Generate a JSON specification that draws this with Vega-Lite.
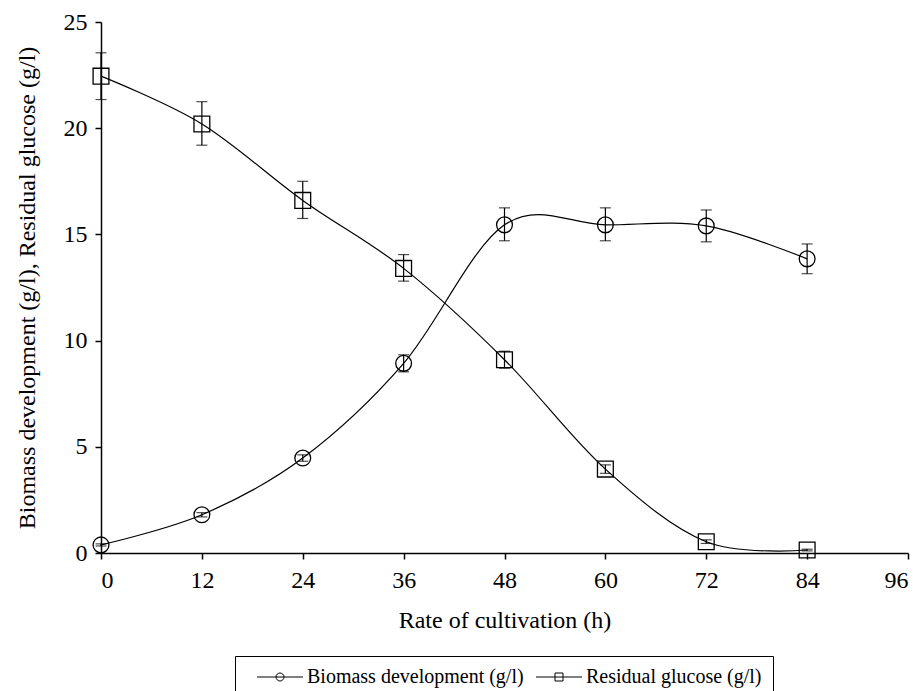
{
  "$schema": "https://vega.github.io/schema/vega-lite/v6.json",
  "width": 807,
  "height": 531,
  "autosize": {"type": "none"},
  "padding": {"left": 101, "top": 22, "right": 12, "bottom": 138},
  "background": "white",
  "config": {
    "font": "Liberation Serif",
    "view": {"stroke": null},
    "axis": {
      "grid": false,
      "domainColor": "black",
      "domainWidth": 1.5,
      "tickColor": "black",
      "tickWidth": 1.5,
      "tickSize": 6,
      "labelColor": "black",
      "labelFont": "Liberation Serif",
      "labelFontSize": 24,
      "titleColor": "black",
      "titleFont": "Liberation Serif",
      "titleFontSize": 24,
      "titleFontWeight": "normal"
    }
  },
  "data": {
    "values": [
      {"series": "Biomass development (g/l)", "time": 0, "value": 0.38, "lo": 0.33, "hi": 0.43},
      {"series": "Biomass development (g/l)", "time": 12, "value": 1.8, "lo": 1.7, "hi": 1.9},
      {"series": "Biomass development (g/l)", "time": 24, "value": 4.47, "lo": 4.32, "hi": 4.62},
      {"series": "Biomass development (g/l)", "time": 36, "value": 8.93, "lo": 8.53, "hi": 9.33},
      {"series": "Biomass development (g/l)", "time": 48, "value": 15.45, "lo": 14.7, "hi": 16.25},
      {"series": "Biomass development (g/l)", "time": 60, "value": 15.45, "lo": 14.7, "hi": 16.25},
      {"series": "Biomass development (g/l)", "time": 72, "value": 15.4, "lo": 14.65, "hi": 16.15},
      {"series": "Biomass development (g/l)", "time": 84, "value": 13.85, "lo": 13.15, "hi": 14.55},
      {"series": "Residual glucose (g/l)", "time": 0, "value": 22.45, "lo": 21.35, "hi": 23.55},
      {"series": "Residual glucose (g/l)", "time": 12, "value": 20.2, "lo": 19.2, "hi": 21.25},
      {"series": "Residual glucose (g/l)", "time": 24, "value": 16.6, "lo": 15.75, "hi": 17.5},
      {"series": "Residual glucose (g/l)", "time": 36, "value": 13.4, "lo": 12.8, "hi": 14.05},
      {"series": "Residual glucose (g/l)", "time": 48, "value": 9.1, "lo": 8.7, "hi": 9.5},
      {"series": "Residual glucose (g/l)", "time": 60, "value": 3.95, "lo": 3.75, "hi": 4.15},
      {"series": "Residual glucose (g/l)", "time": 72, "value": 0.53, "lo": 0.45, "hi": 0.62},
      {"series": "Residual glucose (g/l)", "time": 84, "value": 0.14, "lo": 0.1, "hi": 0.18}
    ]
  },
  "encoding": {
    "x": {
      "field": "time",
      "type": "quantitative",
      "scale": {"domain": [0, 96], "nice": false},
      "axis": {
        "values": [0, 12, 24, 36, 48, 60, 72, 84, 96],
        "title": "Rate of cultivation (h)",
        "labelPadding": 9,
        "titlePadding": 16
      }
    }
  },
  "resolve": {"scale": {"shape": "independent"}},
  "layer": [
    {
      "mark": {"type": "line", "interpolate": "cardinal", "tension": 0, "color": "black", "strokeWidth": 1.2},
      "encoding": {
        "y": {
          "field": "value",
          "type": "quantitative",
          "scale": {"domain": [0, 25], "nice": false},
          "axis": {
            "values": [0, 5, 10, 15, 20, 25],
            "title": "Biomass development  (g/l), Residual glucose (g/l)",
            "labelPadding": 8,
            "titlePadding": 24
          }
        },
        "detail": {"field": "series"}
      }
    },
    {
      "mark": {"type": "rule", "color": "black", "strokeWidth": 1.2},
      "encoding": {
        "y": {"field": "lo", "type": "quantitative"},
        "y2": {"field": "hi"},
        "detail": {"field": "series"}
      }
    },
    {
      "mark": {"type": "tick", "orient": "horizontal", "size": 11, "thickness": 1.2, "color": "black"},
      "encoding": {
        "y": {"field": "lo", "type": "quantitative"},
        "detail": {"field": "series"}
      }
    },
    {
      "mark": {"type": "tick", "orient": "horizontal", "size": 11, "thickness": 1.2, "color": "black"},
      "encoding": {
        "y": {"field": "hi", "type": "quantitative"},
        "detail": {"field": "series"}
      }
    },
    {
      "mark": {"type": "point", "filled": false, "stroke": "black", "strokeWidth": 1.3, "size": 250, "opacity": 1},
      "encoding": {
        "y": {"field": "value", "type": "quantitative"},
        "shape": {
          "field": "series",
          "type": "nominal",
          "scale": {
            "domain": ["Biomass development (g/l)", "Residual glucose (g/l)"],
            "range": ["circle", "square"]
          },
          "legend": null
        }
      }
    },
    {
      "transform": [{"filter": "datum.time < 0"}],
      "mark": {"type": "point", "filled": false, "stroke": "black", "strokeWidth": 1, "size": 100},
      "encoding": {
        "y": {"field": "value", "type": "quantitative"},
        "shape": {
          "field": "series",
          "type": "nominal",
          "scale": {
            "domain": ["Biomass development (g/l)", "Residual glucose (g/l)"],
            "range": [
              "M0.2,0H9.4M4,0A0.8,0.8 0 1,0 5.6,0A0.8,0.8 0 1,0 4,0",
              "M0.2,0H9.4M4,-0.8H5.6V0.8H4Z"
            ]
          },
          "legend": {
            "orient": "none",
            "legendX": 134,
            "legendY": 634,
            "direction": "horizontal",
            "title": null,
            "strokeColor": "black",
            "padding": 11,
            "labelFont": "Liberation Serif",
            "labelFontSize": 20,
            "labelColor": "black",
            "labelLimit": 500,
            "labelOffset": 41,
            "columnPadding": 1,
            "symbolSize": 100,
            "symbolStrokeColor": "black",
            "symbolStrokeWidth": 1,
            "symbolFillColor": "transparent",
            "symbolOpacity": 1
          }
        }
      }
    }
  ]
}
